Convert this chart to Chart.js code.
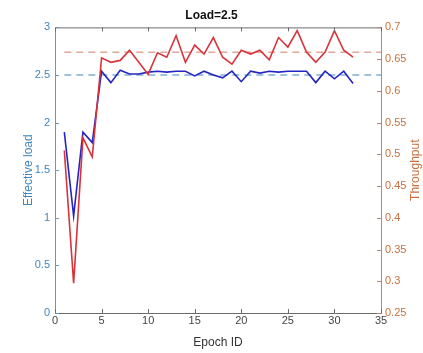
<!DOCTYPE html>
<html>
<head>
<meta charset="utf-8">
<script src="https://cdn.jsdelivr.net/npm/chart.js@4/dist/chart.umd.min.js"></script>
<style>
  html, body { margin: 0; padding: 0; background: #fff; }
  #wrap { width: 423px; height: 353px; }
</style>
</head>
<body>
<div id="wrap"><canvas id="c" width="423" height="353"></canvas></div>
<script>
const epochs = [1,2,3,4,5,6,7,8,9,10,11,12,13,14,15,16,17,18,19,20,21,22,23,24,25,26,27,28,29,30,31,32];
const effectiveLoad = [1.90,1.02,1.90,1.79,2.54,2.42,2.55,2.51,2.51,2.53,2.54,2.53,2.54,2.54,2.49,2.54,2.50,2.47,2.54,2.43,2.54,2.52,2.54,2.53,2.54,2.54,2.54,2.42,2.54,2.46,2.54,2.41];
const throughput = [0.506,0.297,0.526,0.496,0.652,0.645,0.648,0.664,0.645,0.626,0.660,0.653,0.687,0.645,0.672,0.658,0.684,0.653,0.642,0.664,0.658,0.664,0.649,0.684,0.669,0.695,0.661,0.645,0.661,0.695,0.664,0.653];
const loadRef = 2.5;
const throughputRef = 0.661;
const refRange = [1, 35];
const xTicks = [0,5,10,15,20,25,30,35];
const leftTicks = [0,0.5,1,1.5,2,2.5,3];
const rightTicks = [0.25,0.3,0.35,0.4,0.45,0.5,0.55,0.6,0.65,0.7];

const FONT = "'Liberation Sans', Arial, Helvetica, sans-serif";
const LEFT_COLOR = '#3f86bd';
const RIGHT_COLOR = '#c8703f';

const pts = (xs, ys) => xs.map((x, i) => ({x: x, y: ys[i]}));
const fmt = v => String(Math.round(v * 100) / 100);

const innerTicks = {
  id: 'innerTicks',
  afterDatasetsDraw(chart) {
    const ctx = chart.ctx;
    const a = chart.chartArea;
    const sx = chart.scales.x, sy = chart.scales.y, sy1 = chart.scales.y1;
    const L = 4;
    ctx.save();
    ctx.lineWidth = 1;
    ctx.strokeStyle = '#6b6b6b';
    ctx.beginPath();
    ctx.moveTo(a.left, a.top + 0.5);
    ctx.lineTo(a.right, a.top + 0.5);
    ctx.stroke();
    ctx.beginPath();
    xTicks.forEach(v => {
      const p = Math.round(sx.getPixelForValue(v)) + 0.5;
      ctx.moveTo(p, a.bottom); ctx.lineTo(p, a.bottom - L);
      ctx.moveTo(p, a.top); ctx.lineTo(p, a.top + L);
    });
    ctx.stroke();
    ctx.strokeStyle = '#6f95b3';
    ctx.beginPath();
    leftTicks.forEach(v => {
      const p = Math.round(sy.getPixelForValue(v)) + 0.5;
      ctx.moveTo(a.left, p); ctx.lineTo(a.left + L, p);
    });
    ctx.stroke();
    ctx.strokeStyle = '#b08a74';
    ctx.beginPath();
    rightTicks.forEach(v => {
      const p = Math.round(sy1.getPixelForValue(v)) + 0.5;
      ctx.moveTo(a.right, p); ctx.lineTo(a.right - L, p);
    });
    ctx.stroke();
    ctx.fillStyle = RIGHT_COLOR;
    ctx.font = "12px " + FONT;
    ctx.textAlign = 'center';
    ctx.textBaseline = 'middle';
    ctx.translate(416, (a.top + a.bottom) / 2);
    ctx.rotate(-Math.PI / 2);
    ctx.fillText('Throughput', 0, 0);
    ctx.restore();
  }
};

new Chart(document.getElementById('c'), {
  type: 'line',
  data: {
    datasets: [
      { label: 'Load ref', data: pts(refRange, [loadRef, loadRef]), yAxisID: 'y',
        borderColor: '#7fb0cf', borderWidth: 1.5, borderDash: [7, 5], pointRadius: 0, order: 4 },
      { label: 'Effective load', data: pts(epochs, effectiveLoad), yAxisID: 'y',
        borderColor: '#2525c4', borderWidth: 1.6, pointRadius: 0, tension: 0, order: 3 },
      { label: 'Throughput ref', data: pts(refRange, [throughputRef, throughputRef]), yAxisID: 'y1',
        borderColor: '#e0a898', borderWidth: 1.5, borderDash: [7, 5], pointRadius: 0, order: 2 },
      { label: 'Throughput', data: pts(epochs, throughput), yAxisID: 'y1',
        borderColor: '#d8333b', borderWidth: 1.6, pointRadius: 0, tension: 0, order: 1 }
    ]
  },
  options: {
    responsive: false,
    animation: false,
    layout: { padding: 0 },
    plugins: {
      legend: { display: false },
      tooltip: { enabled: false },
      title: {
        display: true, text: 'Load=2.5', color: '#111',
        font: { family: FONT, size: 12, weight: 'bold' },
        padding: { top: 8, bottom: 5 }
      }
    },
    scales: {
      x: {
        type: 'linear', position: 'bottom', min: 0, max: 35,
        afterBuildTicks: s => { s.ticks = xTicks.map(v => ({value: v})); },
        afterFit: s => { s.height = 40; },
        grid: { display: false, drawTicks: false },
        border: { display: true, color: '#6b6b6b', width: 1 },
        ticks: { color: '#444', font: { family: FONT, size: 11 }, padding: 1, maxRotation: 0,
          callback: fmt },
        title: { display: true, text: 'Epoch ID', color: '#333',
          font: { family: FONT, size: 12 }, padding: { top: 0, bottom: 3 } }
      },
      y: {
        type: 'linear', position: 'left', min: 0, max: 3,
        afterBuildTicks: s => { s.ticks = leftTicks.map(v => ({value: v})); },
        afterFit: s => { s.width = 55; },
        grid: { display: false, drawTicks: false },
        border: { display: true, color: '#6f95b3', width: 1 },
        ticks: { color: LEFT_COLOR, font: { family: FONT, size: 11 }, padding: 5, callback: fmt },
        title: { display: true, text: 'Effective load', color: LEFT_COLOR,
          font: { family: FONT, size: 12 }, padding: { top: 21, bottom: 0 } }
      },
      y1: {
        type: 'linear', position: 'right', min: 0.25, max: 0.7,
        afterBuildTicks: s => { s.ticks = rightTicks.map(v => ({value: v})); },
        afterFit: s => { s.width = 42; },
        grid: { display: false, drawTicks: false },
        border: { display: true, color: '#b08a74', width: 1 },
        ticks: { color: RIGHT_COLOR, font: { family: FONT, size: 11 }, padding: 4, callback: fmt }
      }
    }
  },
  plugins: [innerTicks]
});
</script>
</body>
</html>
